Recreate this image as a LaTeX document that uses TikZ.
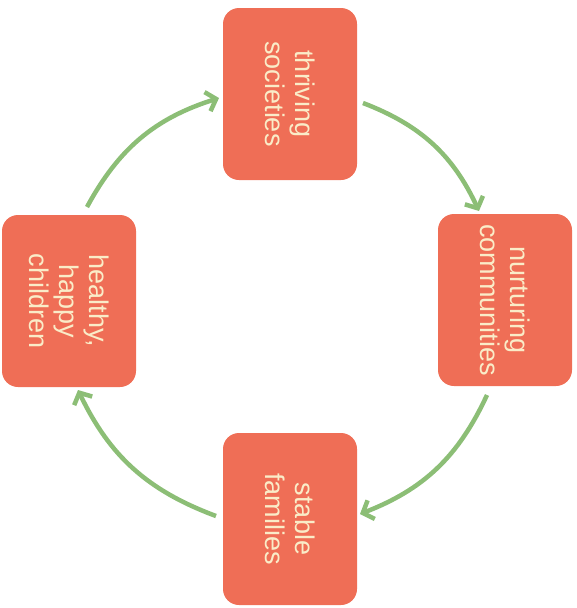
\documentclass[tikz,border=0pt]{standalone}
\usepackage{fontspec}
\setmainfont{Liberation Sans}
\usetikzlibrary{arrows.meta}
\definecolor{boxfill}{RGB}{239,110,86}
\definecolor{boxtext}{RGB}{250,236,200}
\definecolor{arrowgreen}{RGB}{140,190,118}
\begin{document}
\begin{tikzpicture}[x=1pt,y=1pt,
  stage/.style={fill=boxfill, draw=none, rounded corners=16pt,
    minimum width=172pt, minimum height=134pt, rotate=-90,
    text=boxtext, align=center, inner sep=0pt,
    font=\fontsize{27}{30}\selectfont},
  cyc/.style={draw=arrowgreen, line width=4.5pt,
    -{Straight Barb[length=9pt,width=20pt]}, bend left=22}]
\useasboundingbox (0,0) rectangle (577,-608);
\node[stage] (top) at (290,-94) {thriving\\societies};
\node[stage] (right) at (505,-300) {nurturing\\communities};
\node[stage] (bottom) at (290,-519) {stable\\families};
\node[stage] (left) at (69,-301) {healthy,\\happy\\children};
\coordinate (a1s) at (363,-103);
\coordinate (a1e) at (479,-211);
\coordinate (a2s) at (487,-395);
\coordinate (a2e) at (360,-514);
\coordinate (a3s) at (216,-516);
\coordinate (a3e) at (78,-390);
\coordinate (a4s) at (87,-207);
\coordinate (a4e) at (219,-98);
\draw[cyc] (a1s) to (a1e);
\draw[cyc] (a2s) to (a2e);
\draw[cyc] (a3s) to (a3e);
\draw[cyc] (a4s) to (a4e);
\end{tikzpicture}
\end{document}
